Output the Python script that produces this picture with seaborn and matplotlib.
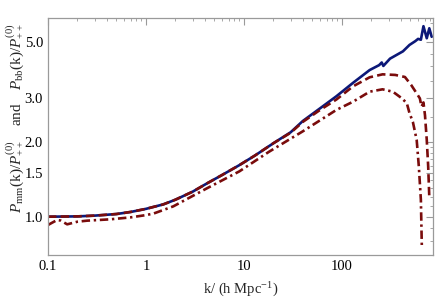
import matplotlib
matplotlib.use("Agg")
import matplotlib.pyplot as plt
import seaborn as sns
import numpy as np
import pandas as pd
from matplotlib.ticker import FixedLocator, NullFormatter, FixedFormatter

# ---- data ----
k_mm = [0.1, 0.2, 0.3, 0.5, 0.7, 1.0, 1.5, 2.0, 3.0, 4.2, 6.0, 9.0, 13, 20, 30, 40, 60, 88,
        130, 192, 240, 255, 265, 310, 420, 490, 560, 600, 640, 680, 735, 780, 825]
ratio_mm = [1.00, 1.003, 1.01, 1.025, 1.045, 1.075, 1.12, 1.17, 1.26, 1.36, 1.47, 1.61, 1.76,
            1.97, 2.18, 2.42, 2.72, 3.04, 3.44, 3.87, 4.05, 4.15, 4.02, 4.3, 4.6, 4.88, 5.05,
            5.16, 5.12, 5.8, 5.19, 5.69, 5.26]

k_bb1 = [0.1, 0.2, 0.3, 0.5, 0.7, 1.0, 1.5, 2.0, 3.0, 4.2, 6.0, 9.0, 13, 20, 30, 40, 60, 88,
         130, 192, 260, 350, 440, 510, 580, 625, 650, 680, 705, 735, 760, 780]
ratio_bb1 = [1.00, 1.003, 1.01, 1.025, 1.045, 1.075, 1.12, 1.17, 1.26, 1.36, 1.47, 1.61, 1.76,
             1.97, 2.17, 2.40, 2.68, 2.95, 3.33, 3.62, 3.72, 3.70, 3.63, 3.37, 3.12, 2.98, 2.76,
             2.87, 2.55, 2.03, 1.59, 1.2]

k_bb2 = [0.1, 0.107, 0.124, 0.135, 0.157, 0.2, 0.25, 0.43, 0.7, 1.0, 1.2, 1.9, 4.2, 9.0, 18,
         40, 88, 130, 192, 260, 330, 350, 410, 460, 490, 530, 580, 610, 640, 655]
ratio_bb2 = [0.926, 0.94, 0.97, 0.965, 0.932, 0.955, 0.964, 0.976, 0.994, 1.015, 1.03, 1.10,
             1.30, 1.52, 1.82, 2.20, 2.68, 2.89, 3.17, 3.24, 3.17, 3.12, 2.98, 2.85, 2.60, 2.40,
             2.03, 1.59, 1.17, 0.75]

x_major = [0.1, 1, 10, 100]
x_labels = ["0.1", "1", "10", "100"]
y_major = [1.0, 1.5, 2.0, 3.0, 5.0]
y_labels = ["1.0", "1.5", "2.0", "3.0", "5.0"]

# ---- style ----
sns.set_theme(style="white")
plt.rcParams["font.family"] = ["Liberation Serif", "DejaVu Serif"]
plt.rcParams["mathtext.fontset"] = "custom"
plt.rcParams["mathtext.rm"] = "Liberation Serif"
plt.rcParams["mathtext.it"] = "Liberation Serif:italic"
plt.rcParams["mathtext.bf"] = "Liberation Serif:bold"

fig = plt.figure(figsize=(4.36, 2.99), dpi=100)
ax = fig.add_axes([0.110, 0.147, 0.883, 0.793])

blue = "#0c1878"
red = "#7a0c0c"

df_mm = pd.DataFrame({"k": k_mm, "r": ratio_mm})
df_b1 = pd.DataFrame({"k": k_bb1, "r": ratio_bb1})
df_b2 = pd.DataFrame({"k": k_bb2, "r": ratio_bb2})

sns.lineplot(data=df_mm, x="k", y="r", ax=ax, color=blue, lw=1.9, sort=False,
             estimator=None)
sns.lineplot(data=df_b1, x="k", y="r", ax=ax, color=red, lw=1.9, sort=False,
             estimator=None, linestyle=(0, (3.2, 1.6)))
sns.lineplot(data=df_b2, x="k", y="r", ax=ax, color=red, lw=1.9, sort=False,
             estimator=None, linestyle=(0, (3.2, 1.4, 0.9, 1.4)))

ax.set_xscale("log")
ax.set_yscale("log")
ax.set_xlim(0.1, 850)
ax.set_ylim(0.702, 6.26)

ax.xaxis.set_major_locator(FixedLocator(x_major))
ax.xaxis.set_major_formatter(FixedFormatter(x_labels))
xminor = [m * 10.0 ** e for e in range(-1, 3) for m in range(2, 10)]
ax.xaxis.set_minor_locator(FixedLocator(xminor))
ax.xaxis.set_minor_formatter(NullFormatter())

ax.yaxis.set_major_locator(FixedLocator(y_major))
ax.yaxis.set_major_formatter(FixedFormatter(y_labels))
yminor = [0.8, 0.9, 1.1, 1.2, 1.3, 1.4, 1.6, 1.7, 1.8, 1.9, 2.5, 3.5, 4.0, 4.5, 6.0]
ax.yaxis.set_minor_locator(FixedLocator(yminor))
ax.yaxis.set_minor_formatter(NullFormatter())

frame_col = "#9a9a9a"
for s in ax.spines.values():
    s.set_color(frame_col)
    s.set_linewidth(0.9)
ax.tick_params(which="both", direction="in", top=True, right=True, colors=frame_col,
               labelcolor="black", labelsize=10.5)
ax.tick_params(which="major", length=5, width=0.8)
ax.tick_params(which="minor", length=2.5, width=0.6)

ax.set_xlabel(r"k/ (h Mpc$^{-1}$)", fontsize=10.5, labelpad=6)
ax.set_ylabel(r"$P_{\rm mm}$(k)/$P_{++}^{(0)}$$\quad\;$and$\quad\;$$P_{\rm bb}$(k)/$P_{++}^{(0)}$",
              fontsize=11)
ax.yaxis.set_label_coords(-0.058, 0.578)
ax.grid(False)

fig.savefig("out.png", dpi=100)
